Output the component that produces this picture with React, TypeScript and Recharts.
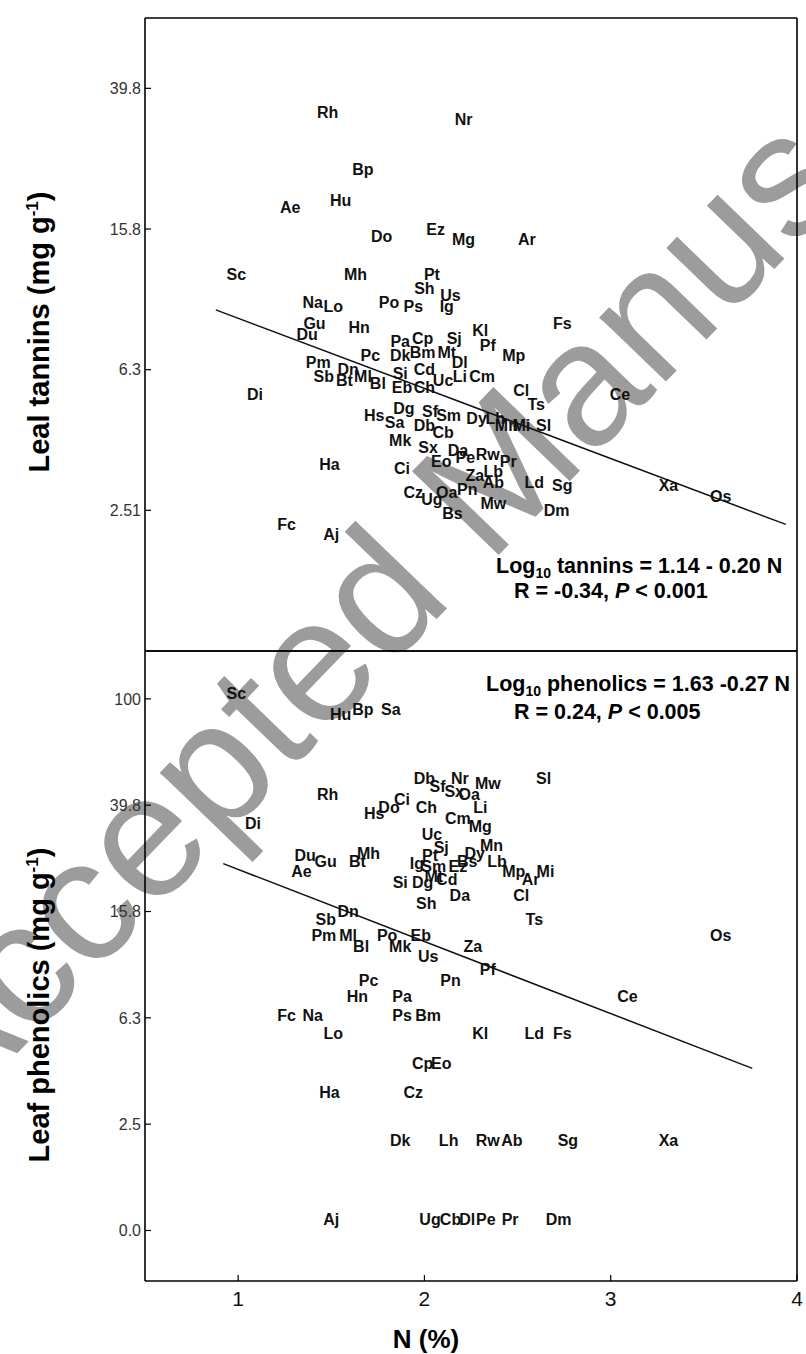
import { ScatterChart, Scatter, XAxis, YAxis } from "recharts";

// species codes, N (%) and log10 tannins (mg g-1)
const tanninSpecies = ["Rh","Nr","Bp","Ae","Hu","Do","Ez","Mg","Ar","Sc","Mh","Pt","Sh","Us","Na","Lo","Po","Ps","Ig","Gu","Du","Hn","Kl","Fs","Pa","Cp","Sj","Pf","Pc","Dk","Bm","Mt","Mp","Pm","Dn","Dl","Si","Cd","Sb","Bt","Ml","Bl","Uc","Li","Cm","Eb","Ch","Cl","Di","Ce","Ts","Dg","Sf","Sm","Hs","Dy","Lh","Mn","Mi","Sl","Sa","Db","Cb","Mk","Sx","Da","Rw","Eo","Pe","Pr","Ha","Ci","Lb","Za","Ab","Ld","Sg","Xa","Cz","Pn","Oa","Os","Ug","Mw","Dm","Bs","Fc","Aj"];
const tanninN = [1.48,2.21,1.67,1.28,1.55,1.77,2.06,2.21,2.55,0.99,1.63,2.04,2.0,2.14,1.4,1.51,1.81,1.94,2.12,1.41,1.37,1.65,2.3,2.74,1.87,1.99,2.16,2.34,1.71,1.87,1.99,2.12,2.48,1.43,1.59,2.19,1.87,2.0,1.46,1.57,1.67,1.75,2.1,2.19,2.31,1.88,2.0,2.52,1.09,3.05,2.6,1.89,2.03,2.13,1.73,2.28,2.38,2.44,2.52,2.64,1.84,2.0,2.1,1.87,2.02,2.18,2.34,2.09,2.22,2.45,1.49,1.88,2.37,2.27,2.37,2.59,2.74,3.31,1.94,2.23,2.12,3.59,2.04,2.37,2.71,2.15,1.26,1.5];
const tanninLog = [1.53,1.51,1.37,1.26,1.28,1.18,1.2,1.17,1.17,1.07,1.07,1.07,1.03,1.01,0.99,0.98,0.99,0.98,0.98,0.93,0.9,0.92,0.91,0.93,0.88,0.89,0.89,0.87,0.84,0.84,0.85,0.85,0.84,0.82,0.8,0.82,0.79,0.8,0.78,0.77,0.78,0.76,0.77,0.78,0.78,0.75,0.75,0.74,0.73,0.73,0.7,0.69,0.68,0.67,0.67,0.66,0.66,0.64,0.64,0.64,0.65,0.64,0.62,0.6,0.58,0.57,0.56,0.54,0.55,0.54,0.53,0.52,0.51,0.5,0.48,0.48,0.47,0.47,0.45,0.46,0.45,0.44,0.43,0.42,0.4,0.39,0.36,0.33];

// species codes, N (%) and log10 phenolics (mg g-1)
const phenolSpecies = ["Sc","Hu","Bp","Sa","Db","Sf","Sx","Oa","Nr","Mw","Sl","Li","Ch","Rh","Hs","Do","Ci","Di","Cm","Mg","Uc","Mn","Sj","Dy","Pt","Bs","Ez","Lb","Mp","Ar","Mi","Cl","Du","Gu","Bt","Mh","Ae","Ig","Sm","Si","Dg","Mt","Cd","Da","Sh","Dn","Sb","Pm","Ml","Bl","Po","Mk","Eb","Us","Za","Pf","Pc","Pn","Hn","Pa","Fc","Na","Ps","Bm","Lo","Kl","Ts","Os","Ce","Ld","Fs","Ha","Cz","Cp","Eo","Dk","Lh","Rw","Ab","Sg","Xa","Aj","Ug","Cb","Dl","Pe","Pr","Dm"];
const phenolN = [0.99,1.55,1.67,1.82,2.0,2.07,2.16,2.24,2.19,2.34,2.64,2.3,2.01,1.48,1.73,1.81,1.88,1.08,2.18,2.3,2.04,2.36,2.09,2.27,2.03,2.23,2.18,2.39,2.48,2.57,2.65,2.52,1.36,1.47,1.64,1.7,1.34,1.96,2.05,1.87,1.99,2.05,2.12,2.19,2.01,1.59,1.47,1.46,1.59,1.66,1.8,1.87,1.98,2.02,2.26,2.34,1.7,2.14,1.64,1.88,1.26,1.4,1.88,2.02,1.51,2.3,2.59,3.59,3.09,2.59,2.74,1.49,1.94,1.99,2.09,1.87,2.13,2.34,2.47,2.77,3.31,1.5,2.03,2.14,2.23,2.33,2.46,2.72];
const phenolLog = [2.02,1.94,1.96,1.96,1.7,1.67,1.65,1.64,1.7,1.68,1.7,1.59,1.59,1.64,1.57,1.59,1.62,1.53,1.55,1.52,1.49,1.45,1.44,1.42,1.41,1.39,1.37,1.39,1.35,1.32,1.35,1.26,1.41,1.39,1.39,1.42,1.35,1.38,1.37,1.31,1.31,1.33,1.32,1.26,1.23,1.2,1.17,1.11,1.11,1.07,1.11,1.07,1.11,1.03,1.07,0.98,0.94,0.94,0.88,0.88,0.81,0.81,0.81,0.81,0.74,0.74,1.17,1.11,0.88,0.74,0.74,0.52,0.52,0.63,0.63,0.34,0.34,0.34,0.34,0.34,0.34,0.04,0.04,0.04,0.04,0.04,0.04,0.04];

// fitted regression lines (end points)
const tanninFitN = [0.88, 3.94];
const tanninFitLog = [0.97, 0.36];
const phenolFitN = [0.92, 3.76];
const phenolFitLog = [1.38, 0.61];

const nTicks = [1, 2, 3, 4];
const tanninTicks = [0.4, 0.8, 1.2, 1.6];
const tanninTickLabels = ["2.51", "6.3", "15.8", "39.8"];
const phenolTicks = [0, 0.4, 0.8, 1.2, 1.6, 2.0];
const phenolTickLabels = ["0.0", "2.5", "6.3", "15.8", "39.8", "100"];

const FONT = "Liberation Sans, Arial, Helvetica, sans-serif";

const tanninData = tanninSpecies.map((name, i) => ({ name, n: tanninN[i], v: tanninLog[i] }));
const phenolData = phenolSpecies.map((name, i) => ({ name, n: phenolN[i], v: phenolLog[i] }));
const tanninFit = tanninFitN.map((n, i) => ({ n, v: tanninFitLog[i] }));
const phenolFit = phenolFitN.map((n, i) => ({ n, v: phenolFitLog[i] }));

const SpeciesLabel = (props: any) => {
  const { cx, cy, payload } = props;
  if (cx == null || cy == null) return <g />;
  return (
    <text
      x={cx}
      y={cy}
      textAnchor="middle"
      dominantBaseline="central"
      fontSize={16}
      fontWeight="bold"
      fontFamily={FONT}
      fill="#111"
    >
      {payload.name}
    </text>
  );
};

const noDot = () => <g />;

const frame = { stroke: "#000", strokeWidth: 1.6 };
const tickMark = { stroke: "#000", strokeWidth: 1.2 };

function Panel(props: {
  data: any[];
  fit: any[];
  ticks: number[];
  labels: string[];
  domain: [number, number];
  height: number;
  margin: any;
  showX: boolean;
}) {
  const { data, fit, ticks, labels, domain, height, margin, showX } = props;
  const fmt = (v: number) => {
    const i = ticks.findIndex((t) => Math.abs(t - v) < 1e-6);
    return i >= 0 ? labels[i] : "";
  };
  return (
    <ScatterChart width={806} height={height} margin={margin}>
      <XAxis
        xAxisId="b"
        dataKey="n"
        type="number"
        domain={[0.5, 4]}
        ticks={nTicks}
        interval={0}
        allowDataOverflow
        height={showX ? 40 : 1}
        tick={showX ? { fontSize: 21, fill: "#111", fontFamily: FONT } : false}
        tickSize={-6}
        tickMargin={16}
        axisLine={frame}
        tickLine={tickMark}
      />
      <XAxis
        xAxisId="t"
        orientation="top"
        type="number"
        domain={[0.5, 4]}
        height={1}
        tick={false}
        tickLine={false}
        axisLine={frame}
      />
      <YAxis
        yAxisId="l"
        dataKey="v"
        type="number"
        domain={domain}
        ticks={ticks}
        interval={0}
        allowDataOverflow
        width={145}
        tick={{ fontSize: 16, fill: "#333", fontFamily: FONT }}
        tickFormatter={fmt}
        tickSize={-6}
        tickMargin={10}
        axisLine={frame}
        tickLine={tickMark}
      />
      <YAxis
        yAxisId="r"
        orientation="right"
        type="number"
        domain={domain}
        ticks={ticks}
        interval={0}
        width={1}
        tick={false}
        tickSize={-6}
        axisLine={frame}
        tickLine={tickMark}
      />
      <Scatter
        xAxisId="b"
        yAxisId="l"
        data={fit}
        shape={noDot}
        line={{ stroke: "#111", strokeWidth: 1.5 }}
        isAnimationActive={false}
      />
      <Scatter
        xAxisId="b"
        yAxisId="l"
        data={data}
        shape={<SpeciesLabel />}
        isAnimationActive={false}
      />
    </ScatterChart>
  );
}

export default function App() {
  return (
    <div
      style={{
        position: "absolute",
        left: 0,
        top: 0,
        width: 806,
        height: 1354,
        background: "#fff",
        fontFamily: FONT,
        overflow: "hidden",
      }}
    >
      <svg width={806} height={1354} style={{ position: "absolute", left: 0, top: 0 }}>
        <text
          transform="translate(-52 1125) rotate(-46)"
          fontSize={175}
          fontFamily={FONT}
          fill="#9c9c9c"
        >
          Accepted Manuscript
        </text>
      </svg>
      <div style={{ position: "absolute", left: 0, top: 0 }}>
        <Panel
          data={tanninData}
          fit={tanninFit}
          ticks={tanninTicks}
          labels={tanninTickLabels}
          domain={[0, 1.8]}
          height={660}
          margin={{ top: 17, right: 8, bottom: 8, left: 0 }}
          showX={false}
        />
      </div>
      <div style={{ position: "absolute", left: 0, top: 640 }}>
        <Panel
          data={phenolData}
          fit={phenolFit}
          ticks={phenolTicks}
          labels={phenolTickLabels}
          domain={[-0.19, 2.18]}
          height={714}
          margin={{ top: 10, right: 8, bottom: 33, left: 0 }}
          showX={true}
        />
      </div>
      <svg
        width={806}
        height={1354}
        style={{ position: "absolute", left: 0, top: 0, pointerEvents: "none" }}
        fontFamily={FONT}
      >
        <text transform="translate(49 332) rotate(-90)" textAnchor="middle" fontSize={29} fontWeight="bold" fill="#000">
          Leal tannins (mg g<tspan dy={-11} fontSize={17}>-1</tspan>
          <tspan dy={11}>)</tspan>
        </text>
        <text transform="translate(49 1005) rotate(-90)" textAnchor="middle" fontSize={29} fontWeight="bold" fill="#000">
          Leaf phenolics (mg g<tspan dy={-11} fontSize={17}>-1</tspan>
          <tspan dy={11}>)</tspan>
        </text>
        <text x={426} y={1348} textAnchor="middle" fontSize={26} fontWeight="bold" fill="#000">
          N (%)
        </text>
        <text x={496} y={573} fontSize={21.5} fontWeight="bold" fill="#000">
          Log<tspan dy={5} fontSize={14}>10</tspan>
          <tspan dy={-5}> tannins = 1.14 - 0.20 N</tspan>
        </text>
        <text x={514} y={598} fontSize={21.5} fontWeight="bold" fill="#000">
          R = -0.34, <tspan fontStyle="italic">P</tspan> &lt; 0.001
        </text>
        <text x={486} y={691} fontSize={21.5} fontWeight="bold" fill="#000">
          Log<tspan dy={5} fontSize={14}>10</tspan>
          <tspan dy={-5}> phenolics = 1.63 -0.27 N</tspan>
        </text>
        <text x={514} y={719} fontSize={21.5} fontWeight="bold" fill="#000">
          R = 0.24, <tspan fontStyle="italic">P</tspan> &lt; 0.005
        </text>
      </svg>
    </div>
  );
}
